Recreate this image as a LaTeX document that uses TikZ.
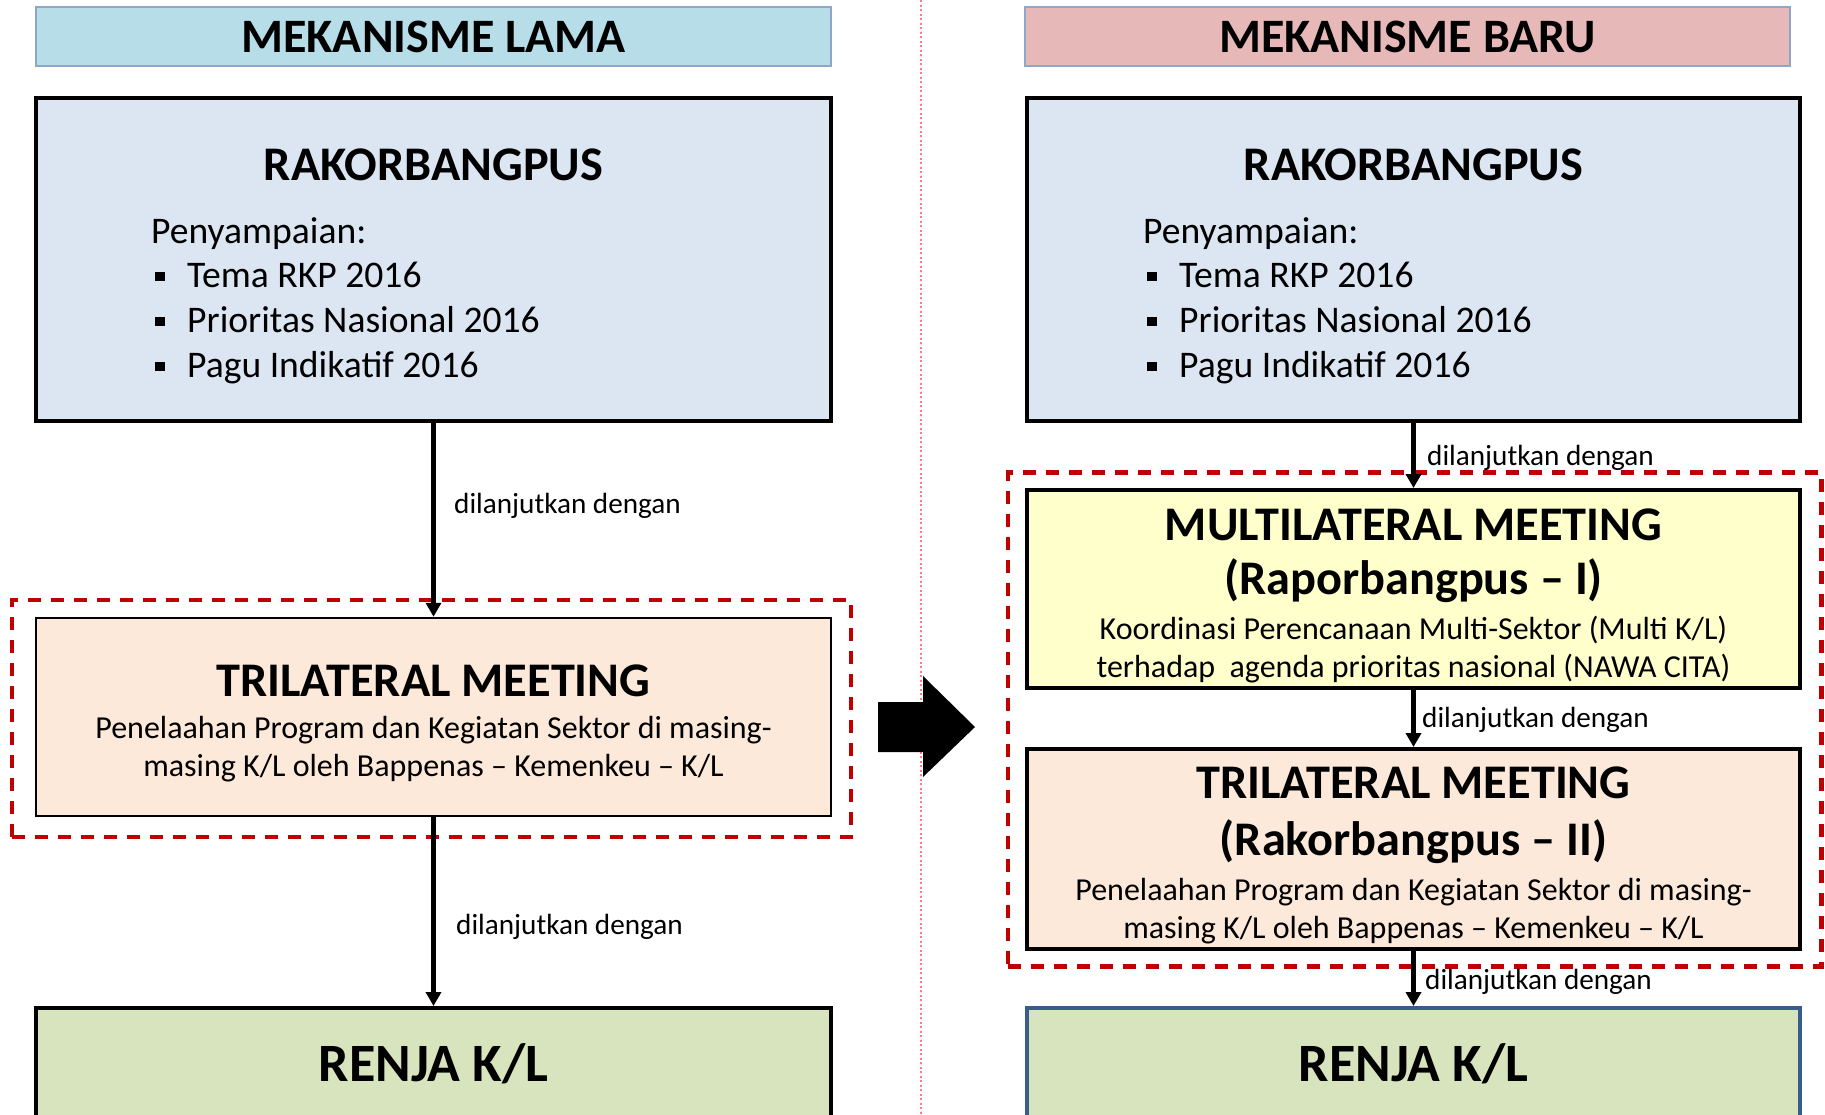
\documentclass[tikz,border=0pt]{standalone}
\usepackage{fontspec}
\setmainfont{Carlito}
\usetikzlibrary{arrows.meta}

\definecolor{hdrL}{HTML}{B7DEE8}
\definecolor{hdrR}{HTML}{E6B9B8}
\definecolor{hdrline}{HTML}{8EA6C8}
\definecolor{rakfill}{HTML}{DCE6F2}
\definecolor{trifill}{HTML}{FDE9D9}
\definecolor{multifill}{HTML}{FFFFCC}
\definecolor{renjafill}{HTML}{D7E4BD}
\definecolor{renjaline}{HTML}{385D8A}
\definecolor{groupred}{HTML}{C00000}
\definecolor{splitred}{HTML}{FF7C80}

\newcommand\bul{\makebox[32pt][l]{\rule[6pt]{9.5pt}{9.5pt}}}

\tikzset{
  hdrbox/.style={draw=hdrline, line width=1.5pt, inner sep=0pt,
    font=\fontsize{48}{52}\selectfont\bfseries},
  panel/.style={draw=black, line width=4pt, inner sep=0pt},
  thinpanel/.style={draw=black, line width=2.5pt, inner sep=0pt},
  bigtitle/.style={anchor=base, inner sep=0pt, font=\fontsize{48.3}{52}\selectfont\bfseries},
  hugetitle/.style={anchor=base, inner sep=0pt, font=\fontsize{54}{58}\selectfont\bfseries},
  bodytext/.style={anchor=base west, inner sep=0pt, font=\fontsize{37.6}{42}\selectfont},
  subtext/.style={anchor=base, inner sep=0pt, font=\fontsize{32}{36}\selectfont},
  steplabel/.style={anchor=base west, inner sep=0pt, font=\fontsize{29.2}{32}\selectfont},
  flow/.style={line width=4.3pt, -{Triangle[width=15pt,length=14pt]}},
  group/.style={draw=groupred, line width=4.5pt, dash pattern=on 13pt off 10pt},
}

\begin{document}
\begin{tikzpicture}[x=1pt,y=-1pt]
\useasboundingbox (0,0) rectangle (1825,1114);

% column divider
\draw[splitred, line width=1.5pt, dash pattern=on 2pt off 2.5pt] (921,0) -- (921,1114);

% ---------- old mechanism ----------
\node[hdrbox, fill=hdrL, minimum width=795pt, minimum height=59pt] (hdrL) at (433.5,36.5) {MEKANISME LAMA};

\node[panel, fill=rakfill, minimum width=795pt, minimum height=323pt] (rakL) at (433.5,259.5) {};
\node[bigtitle] (rakLt) at (433.5,180) {RAKORBANGPUS};
\node[bodytext] (rakL0) at (151,243) {Penyampaian:};
\node[bodytext] (rakL1) at (155,287) {\bul Tema RKP 2016};
\node[bodytext] (rakL2) at (155,332) {\bul Prioritas Nasional 2016};
\node[bodytext] (rakL3) at (155,377) {\bul Pagu Indikatif 2016};

\node[group, minimum width=839pt, minimum height=237pt, inner sep=0pt] (grpL) at (431.5,718.5) {};
\node[thinpanel, fill=trifill, minimum width=795pt, minimum height=198pt] (triL) at (433.5,717) {};
\node[bigtitle] (triLt) at (433.5,696) {TRILATERAL MEETING};
\node[subtext] (triL1) at (433.5,738) {Penelaahan Program dan Kegiatan Sektor di masing-};
\node[subtext] (triL2) at (433.5,776) {masing K/L oleh Bappenas -- Kemenkeu -- K/L};

\node[panel, fill=renjafill, minimum width=795pt, minimum height=160pt] (renL) at (433.5,1088) {};
\node[hugetitle] (renLt) at (433.5,1081) {RENJA K/L};

\draw[flow] (rakL.south) -- (triL.north);
\node[steplabel] (labL1) at (454,513) {dilanjutkan dengan};
\draw[flow] (triL.south) -- (renL.north);
\node[steplabel] (labL2) at (456,934) {dilanjutkan dengan};

% ---------- transition arrow ----------
\fill[black] (878,702) -- (923,702) -- (923,676) -- (975,727) -- (923,777) -- (923,752) -- (878,752) -- cycle;

% ---------- new mechanism ----------
\node[hdrbox, fill=hdrR, minimum width=765pt, minimum height=59pt] (hdrR) at (1407.5,36.5) {MEKANISME BARU};

\node[panel, fill=rakfill, minimum width=773pt, minimum height=323pt] (rakR) at (1413.5,259.5) {};
\node[bigtitle] (rakRt) at (1413.5,180) {RAKORBANGPUS};
\node[bodytext] (rakR0) at (1143,243) {Penyampaian:};
\node[bodytext] (rakR1) at (1147,287) {\bul Tema RKP 2016};
\node[bodytext] (rakR2) at (1147,332) {\bul Prioritas Nasional 2016};
\node[bodytext] (rakR3) at (1147,377) {\bul Pagu Indikatif 2016};

\node[group, minimum width=813.5pt, minimum height=494pt, inner sep=0pt] (grpR) at (1414.75,719.5) {};

\node[panel, fill=multifill, minimum width=773pt, minimum height=198pt] (multR) at (1413.5,589) {};
\node[bigtitle] (multRt) at (1413.5,540) {MULTILATERAL MEETING};
\node[bigtitle] (multRs) at (1413.5,594) {(Raporbangpus -- I)};
\node[subtext] (multR1) at (1413.5,639) {Koordinasi Perencanaan Multi-Sektor (Multi K/L)};
\node[subtext] (multR2) at (1413.5,677) {terhadap\ \ agenda prioritas nasional (NAWA CITA)};

\node[panel, fill=trifill, minimum width=773pt, minimum height=200pt] (triR) at (1413.5,849) {};
\node[bigtitle] (triRt) at (1413.5,798) {TRILATERAL MEETING};
\node[bigtitle] (triRs) at (1413.5,855) {(Rakorbangpus -- II)};
\node[subtext] (triR1) at (1413.5,900) {Penelaahan Program dan Kegiatan Sektor di masing-};
\node[subtext] (triR2) at (1413.5,938) {masing K/L oleh Bappenas -- Kemenkeu -- K/L};

\node[panel, draw=renjaline, fill=renjafill, minimum width=773pt, minimum height=160pt] (renR) at (1413.5,1088) {};
\node[hugetitle] (renRt) at (1413.5,1081) {RENJA K/L};

\draw[flow] (rakR.south) -- (multR.north);
\node[steplabel] (labR1) at (1427,465) {dilanjutkan dengan};
\draw[flow] (multR.south) -- (triR.north);
\node[steplabel] (labR2) at (1422,727) {dilanjutkan dengan};
\draw[flow] (triR.south) -- (renR.north);
\node[steplabel] (labR3) at (1425,989) {dilanjutkan dengan};

\end{tikzpicture}
\end{document}
